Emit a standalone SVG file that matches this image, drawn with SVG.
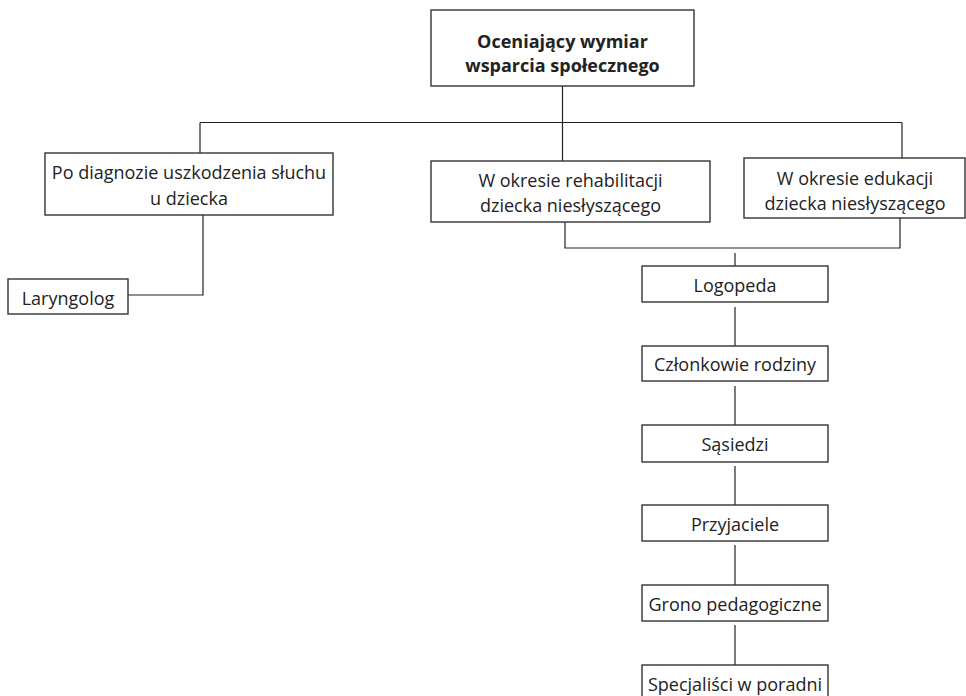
<svg xmlns="http://www.w3.org/2000/svg" width="966" height="696" viewBox="0 0 966 696">
<style>
.box{fill:#fff;stroke:#333;stroke-width:1.4}
.ln{fill:none;stroke:#222;stroke-width:1.2}
text{font-family:"Open Sans","Noto Sans",sans-serif;font-size:18px;fill:#222;text-anchor:middle}
.b{font-weight:bold}
</style>
<rect width="966" height="696" fill="#fff"/>
<g id="connectors">
<path class="ln" d="M562.5,86 V161"/>
<path class="ln" d="M200,122.5 H902"/>
<path class="ln" d="M200,122.5 V153"/>
<path class="ln" d="M902,122.5 V158"/>
<path class="ln" d="M203,215 V295 H128"/>
<path class="ln" d="M565,222 V248 H900 V218"/>
<path class="ln" d="M735,253 V266"/>
<path class="ln" d="M735,307 V346"/>
<path class="ln" d="M735,386 V425"/>
<path class="ln" d="M735,466 V505"/>
<path class="ln" d="M735,545 V585"/>
<path class="ln" d="M735,625 V665"/>
</g>
<g id="root">
<rect class="box" x="431" y="10" width="263" height="76"/>
<text class="b" x="562.5" y="48">Oceniający wymiar</text>
<text class="b" x="562.5" y="72">wsparcia społecznego</text>
</g>
<g id="diagnoza">
<rect class="box" x="45" y="153" width="288" height="62"/>
<text x="189" y="179">Po diagnozie uszkodzenia słuchu</text>
<text x="189" y="205">u dziecka</text>
</g>
<g id="rehabilitacja">
<rect class="box" x="431" y="161" width="279" height="61"/>
<text x="570.5" y="187">W okresie rehabilitacji</text>
<text x="570.5" y="212">dziecka niesłyszącego</text>
</g>
<g id="edukacja">
<rect class="box" x="744" y="158" width="221" height="60"/>
<text x="855" y="185">W okresie edukacji</text>
<text x="855" y="210">dziecka niesłyszącego</text>
</g>
<g id="laryngolog">
<rect class="box" x="8" y="279" width="120" height="35"/>
<text x="68" y="304.5">Laryngolog</text>
</g>
<g id="logopeda">
<rect class="box" x="642" y="266" width="186" height="36"/>
<text x="735" y="292">Logopeda</text>
</g>
<g id="czlonkowie">
<rect class="box" x="642" y="346" width="186" height="35"/>
<text x="735" y="371">Członkowie rodziny</text>
</g>
<g id="sasiedzi">
<rect class="box" x="642" y="425" width="186" height="37"/>
<text x="735" y="451">Sąsiedzi</text>
</g>
<g id="przyjaciele">
<rect class="box" x="642" y="505" width="186" height="36"/>
<text x="735" y="531">Przyjaciele</text>
</g>
<g id="grono">
<rect class="box" x="642" y="585" width="186" height="36"/>
<text x="735" y="611">Grono pedagogiczne</text>
</g>
<g id="specjalisci">
<rect class="box" x="642" y="665" width="186" height="36"/>
<text x="735" y="691">Specjaliści w poradni</text>
</g>
</svg>
